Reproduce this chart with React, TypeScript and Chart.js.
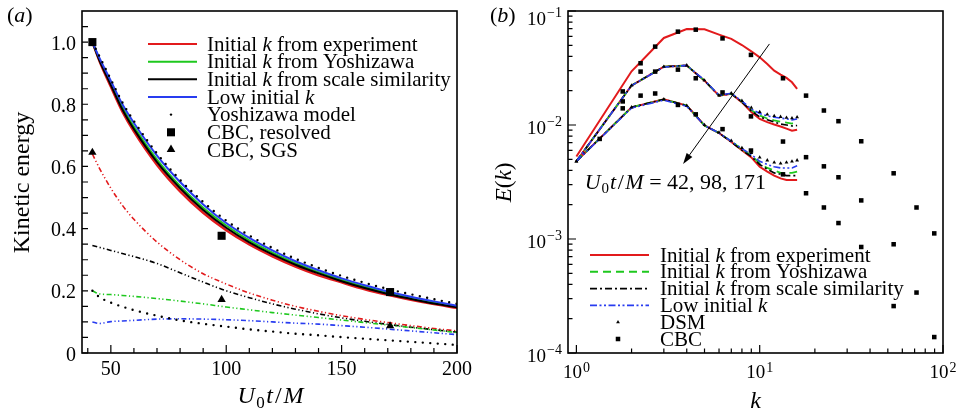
import React, { useEffect, useRef } from 'react';
import { Chart, registerables } from 'chart.js';
Chart.register(...registerables);

const SERIF = '"Liberation Serif", "Times New Roman", Times, serif';
const RED = 'rgb(226,26,28)';
const GREEN = 'rgb(30,200,30)';
const BLUE = 'rgb(40,60,240)';
const BLACK = '#000';

// ---------------- Panel (a): kinetic energy decay ----------------
const tA = [42, 45, 50, 55, 60, 70, 80, 90, 100, 110, 120, 130, 140, 150, 160, 170, 180, 190, 200];
const resExperiment = [1.0, 0.94, 0.856, 0.776, 0.712, 0.605, 0.52, 0.451, 0.395, 0.349, 0.311, 0.278, 0.25, 0.227, 0.205, 0.187, 0.171, 0.157, 0.145];
const resYoshizawa = [1.0, 0.945, 0.867, 0.79, 0.728, 0.622, 0.537, 0.467, 0.41, 0.362, 0.323, 0.289, 0.26, 0.235, 0.213, 0.193, 0.177, 0.162, 0.149];
const resScaleSim = [1.0, 0.942, 0.862, 0.783, 0.72, 0.614, 0.53, 0.46, 0.403, 0.356, 0.317, 0.284, 0.256, 0.231, 0.209, 0.19, 0.174, 0.159, 0.147];
const resLowInit = [1.0, 0.95, 0.875, 0.8, 0.74, 0.635, 0.55, 0.478, 0.418, 0.37, 0.33, 0.295, 0.266, 0.24, 0.218, 0.198, 0.181, 0.166, 0.152];
const yoshizawaModelRes = [1.0, 0.955, 0.88, 0.806, 0.746, 0.642, 0.557, 0.486, 0.426, 0.378, 0.338, 0.303, 0.274, 0.248, 0.226, 0.206, 0.189, 0.173, 0.158];
const sgsExperiment = [0.64, 0.595, 0.53, 0.475, 0.43, 0.357, 0.3, 0.255, 0.222, 0.193, 0.17, 0.15, 0.134, 0.12, 0.108, 0.098, 0.088, 0.079, 0.071];
const sgsYoshizawa = [0.2, 0.19, 0.188, 0.185, 0.182, 0.175, 0.167, 0.158, 0.148, 0.139, 0.13, 0.122, 0.114, 0.106, 0.098, 0.09, 0.082, 0.074, 0.066];
const sgsScaleSim = [0.346, 0.34, 0.33, 0.32, 0.31, 0.288, 0.258, 0.228, 0.2, 0.178, 0.158, 0.141, 0.126, 0.113, 0.102, 0.092, 0.083, 0.075, 0.067];
const sgsLowInit = [0.1, 0.095, 0.101, 0.103, 0.105, 0.109, 0.11, 0.109, 0.107, 0.104, 0.1, 0.096, 0.093, 0.088, 0.083, 0.077, 0.071, 0.065, 0.059];
const yoshizawaModelSgs = [0.2, 0.18, 0.162, 0.149, 0.138, 0.12, 0.105, 0.094, 0.085, 0.076, 0.069, 0.062, 0.057, 0.051, 0.046, 0.041, 0.036, 0.031, 0.026];
const cbcTimes = [42, 98, 171];
const cbcResolved = [1.0, 0.377, 0.196];
const cbcSgs = [0.645, 0.172, 0.087];
const xTicksA = [50, 100, 150, 200];
const xTickLabelsA = ['50', '100', '150', '200'];
const xMinorTicksA = [40, 50, 60, 70, 80, 90, 100, 110, 120, 130, 140, 150, 160, 170, 180, 190, 200];
const yTicksA = [0, 0.2, 0.4, 0.6, 0.8, 1.0];
const yTickLabelsA = ['0', '0.2', '0.4', '0.6', '0.8', '1.0'];
const yMinorTicksA = [0, 0.05, 0.1, 0.15, 0.2, 0.25, 0.3, 0.35, 0.4, 0.45, 0.5, 0.55, 0.6, 0.65, 0.7, 0.75, 0.8, 0.85, 0.9, 0.95, 1.0, 1.05];

// ---------------- Panel (b): energy spectra ----------------
const kSim = [1, 2, 3, 4, 5, 6, 7, 8, 9, 10, 11, 12, 13, 14, 15, 16];
const eExp42 = [0.0053, 0.0296, 0.058, 0.0695, 0.069, 0.062, 0.0569, 0.0503, 0.0443, 0.0392, 0.0343, 0.03, 0.0277, 0.0259, 0.0237, 0.0207];
const eExp98 = [0.0048, 0.0222, 0.0325, 0.0333, 0.0245, 0.0181, 0.0188, 0.0158, 0.013, 0.0113, 0.0106, 0.0101, 0.0097, 0.0093, 0.0089, 0.0091];
const eSca98 = [0.0048, 0.0222, 0.0325, 0.0333, 0.0245, 0.0181, 0.0188, 0.0159, 0.0133, 0.0118, 0.0111, 0.0106, 0.0102, 0.01, 0.0098, 0.0099];
const eYos98 = [0.0048, 0.0222, 0.0325, 0.0333, 0.0245, 0.0181, 0.0188, 0.016, 0.0135, 0.0121, 0.0114, 0.011, 0.0107, 0.0105, 0.0103, 0.0107];
const eLow98 = [0.0048, 0.0222, 0.0322, 0.0333, 0.0247, 0.0183, 0.019, 0.0162, 0.0138, 0.0126, 0.012, 0.0117, 0.0115, 0.0113, 0.0111, 0.0113];
const eDsm98 = [0.0048, 0.0222, 0.0325, 0.0334, 0.0246, 0.0182, 0.019, 0.0163, 0.0142, 0.013, 0.0124, 0.012, 0.0118, 0.0116, 0.0115, 0.0117];
const eExp171 = [0.0048, 0.0143, 0.0168, 0.0148, 0.0099, 0.0085, 0.0071, 0.006, 0.0052, 0.0043, 0.0039, 0.0036, 0.0034, 0.0033, 0.0033, 0.0033];
const eSca171 = [0.0048, 0.0143, 0.0168, 0.0148, 0.0099, 0.0085, 0.0071, 0.006, 0.0053, 0.0045, 0.0041, 0.0038, 0.0037, 0.0036, 0.0036, 0.0036];
const eYos171 = [0.0048, 0.0143, 0.0168, 0.0148, 0.0099, 0.0085, 0.0072, 0.0061, 0.0054, 0.0046, 0.0042, 0.004, 0.0038, 0.0038, 0.0038, 0.0039];
const eLow171 = [0.0048, 0.0141, 0.0165, 0.0146, 0.0099, 0.0085, 0.0072, 0.0062, 0.0055, 0.0048, 0.0045, 0.0043, 0.0042, 0.0042, 0.0042, 0.0044];
const eDsm171 = [0.0048, 0.0143, 0.0168, 0.0148, 0.01, 0.0086, 0.0073, 0.0063, 0.0057, 0.0052, 0.0049, 0.0047, 0.0046, 0.0047, 0.0048, 0.0049];
const kCbc = [1.34, 1.79, 2.24, 2.69, 3.58, 4.48, 6.27, 8.96, 13.4, 17.9, 22.4, 26.9, 35.8, 53.8, 71.7, 89.6];
const eCbc42 = [null, 0.0197, 0.0348, 0.0487, 0.0659, 0.0686, 0.0575, 0.0412, 0.0257, 0.0181, 0.0134, 0.0108, 0.0072, 0.00377, 0.00189, 0.00112];
const eCbc98 = [null, 0.0161, 0.0294, 0.0294, 0.0306, 0.0257, 0.0193, 0.0119, 0.00716, 0.00522, 0.00434, 0.00348, 0.00218, 0.000899, 0.000339, 0.000138];
const eCbc171 = [0.00755, 0.014, 0.0181, 0.0189, 0.015, 0.0124, 0.0092, 0.00597, 0.00369, 0.00252, 0.00189, 0.00138, 0.000851, 0.000258, null, null];
const xTicksB = [1, 10, 100];
const xTickExpB = ['0', '1', '2'];
const yTicksB = [1e-4, 1e-3, 1e-2, 1e-1];
const yTickExpB = ['\u22124', '\u22123', '\u22122', '\u22121'];
const arrowFrom = { k: 11.3, e: 0.0514 };
const arrowTo = { k: 3.82, e: 0.00456 };
const annotAt = { k: 1.11, e: 0.00277 };

// ---------------- helpers ----------------
type Part = { t: string; it?: boolean; sub?: boolean; sup?: boolean; gap?: number };
const partFont = (p: Part, size: number) =>
  `${p.it ? 'italic ' : ''}${p.sub || p.sup ? Math.round(size * 0.7) : size}px ${SERIF}`;
function richWidth(ctx: CanvasRenderingContext2D, parts: Part[], size: number) {
  let w = 0;
  for (const p of parts) { ctx.font = partFont(p, size); w += ctx.measureText(p.t).width + (p.gap || 0); }
  return w;
}
function drawRich(ctx: CanvasRenderingContext2D, parts: Part[], x: number, y: number, size: number, align = 'left') {
  const w = richWidth(ctx, parts, size);
  let cx = align === 'left' ? x : align === 'center' ? x - w / 2 : x - w;
  ctx.textAlign = 'left';
  ctx.textBaseline = 'alphabetic';
  for (const p of parts) {
    ctx.font = partFont(p, size);
    const dy = p.sub ? size * 0.22 : p.sup ? -size * 0.42 : 0;
    ctx.fillText(p.t, cx, y + dy);
    cx += ctx.measureText(p.t).width + (p.gap || 0);
  }
}
function drawPow(ctx: CanvasRenderingContext2D, exp: string, x: number, y: number, align: string, raise: number) {
  ctx.textAlign = 'left';
  ctx.textBaseline = 'alphabetic';
  ctx.font = `19px ${SERIF}`;
  const wb = ctx.measureText('10').width;
  ctx.font = `14px ${SERIF}`;
  const we = ctx.measureText(exp).width;
  const total = wb + 1 + we;
  const sx = align === 'center' ? x - total / 2 : x - total;
  ctx.font = `19px ${SERIF}`;
  ctx.fillText('10', sx, y);
  ctx.font = `14px ${SERIF}`;
  ctx.fillText(exp, sx + wb + 1, y - raise);
}
function legendLine(ctx: CanvasRenderingContext2D, x1: number, x2: number, y: number, color: string, dash: number[], w: number) {
  ctx.save();
  ctx.strokeStyle = color; ctx.lineWidth = w; ctx.setLineDash(dash); ctx.lineCap = 'butt';
  ctx.beginPath(); ctx.moveTo(x1, y); ctx.lineTo(x2, y); ctx.stroke();
  ctx.restore();
}
function marker(ctx: CanvasRenderingContext2D, kind: string, x: number, y: number, r: number) {
  ctx.save();
  ctx.fillStyle = '#000';
  ctx.beginPath();
  if (kind === 'rect') { const s = r * Math.SQRT1_2; ctx.rect(x - s, y - s, 2 * s, 2 * s); }
  else if (kind === 'triangle') { ctx.moveTo(x, y - r); ctx.lineTo(x + 0.866 * r, y + 0.5 * r); ctx.lineTo(x - 0.866 * r, y + 0.5 * r); ctx.closePath(); }
  else { ctx.arc(x, y, r, 0, Math.PI * 2); }
  ctx.fill();
  ctx.restore();
}
const pts = (xs: number[], ys: (number | null)[]) =>
  xs.map((x, i) => ({ x, y: ys[i] })).filter((p) => p.y !== null);

const lineDs = (label: string, xs: number[], ys: (number | null)[], color: string, width: number, dash: number[], extra: any = {}) => ({
  label, data: pts(xs, ys), borderColor: color, backgroundColor: color, borderWidth: width,
  borderDash: dash, pointRadius: 0, fill: false, tension: 0, ...extra,
});
const markDs = (label: string, xs: number[], ys: (number | null)[], style: string, r: number) => ({
  label, data: pts(xs, ys), showLine: false, pointStyle: style, pointRadius: r,
  backgroundColor: '#000', borderColor: '#000', pointBorderWidth: 0, borderWidth: 0,
});

const DASHDOTDOT_A = [5, 2.5, 1.2, 2.5, 1.2, 2.5];
const DOTS = [0, 7.5];
const MONO = { cubicInterpolationMode: 'monotone' };

// ---------------- panel (a) ----------------
function makeConfigA(): any {
  const decor = {
    id: 'decorA',
    afterDraw(chart: any) {
      const { ctx, chartArea: ca, scales } = chart;
      const xs = scales.x, ys = scales.y;
      ctx.save();
      ctx.strokeStyle = '#000';
      ctx.lineWidth = 1.2;
      ctx.beginPath();
      xMinorTicksA.forEach((v) => {
        const p = xs.getPixelForValue(v);
        const len = xTicksA.includes(v) ? 8 : 5;
        ctx.moveTo(p, ca.bottom); ctx.lineTo(p, ca.bottom - len);
      });
      yMinorTicksA.forEach((v) => {
        const p = ys.getPixelForValue(v);
        ctx.moveTo(ca.left, p); ctx.lineTo(ca.left + 6, p);
      });
      ctx.stroke();
      ctx.lineWidth = 1.6;
      ctx.strokeRect(ca.left, ca.top, ca.right - ca.left, ca.bottom - ca.top);
      ctx.fillStyle = '#000';
      ctx.font = `20px ${SERIF}`;
      ctx.textBaseline = 'alphabetic';
      ctx.textAlign = 'center';
      xTicksA.forEach((v, i) => ctx.fillText(xTickLabelsA[i], xs.getPixelForValue(v), ca.bottom + 22));
      ctx.textAlign = 'right';
      yTicksA.forEach((v, i) => ctx.fillText(yTickLabelsA[i], ca.left - 6, ys.getPixelForValue(v) + 7.5));
      // axis titles
      drawRich(ctx, [{ t: 'U', it: true, gap: 1.5 }, { t: '0', sub: true, gap: 1.5 }, { t: 't', it: true, gap: 2 }, { t: '/', gap: 2 }, { t: 'M', it: true }],
        (ca.left + ca.right) / 2 + 1, 403, 24, 'center');
      ctx.save();
      ctx.translate(28.5, 182.5);
      ctx.rotate(-Math.PI / 2);
      drawRich(ctx, [{ t: 'Kinetic energy' }], 0, 0, 24, 'center');
      ctx.restore();
      drawRich(ctx, [{ t: '(' }, { t: 'a', it: true }, { t: ')' }], 7, 22, 22, 'left');
      // legend
      const rows = [44, 61.7, 79.3, 97, 114.6, 132.3, 150];
      const lx1 = 148, lx2 = 197, tx = 207, mx = 171, fs = 21;
      legendLine(ctx, lx1, lx2, rows[0], RED, [], 2);
      legendLine(ctx, lx1, lx2, rows[1], GREEN, [], 2);
      legendLine(ctx, lx1, lx2, rows[2], BLACK, [], 2);
      legendLine(ctx, lx1, lx2, rows[3], BLUE, [], 2);
      marker(ctx, 'circle', mx, rows[4], 1.2);
      marker(ctx, 'rect', mx, rows[5], 5.7);
      marker(ctx, 'triangle', mx, rows[6] - 0.5, 5);
      ctx.fillStyle = '#000';
      const texts: Part[][] = [
        [{ t: 'Initial ' }, { t: 'k', it: true }, { t: ' from experiment' }],
        [{ t: 'Initial ' }, { t: 'k', it: true }, { t: ' from Yoshizawa' }],
        [{ t: 'Initial ' }, { t: 'k', it: true }, { t: ' from scale similarity' }],
        [{ t: 'Low initial ' }, { t: 'k', it: true }],
        [{ t: 'Yoshizawa model' }],
        [{ t: 'CBC, resolved' }],
        [{ t: 'CBC, SGS' }],
      ];
      texts.forEach((p, i) => drawRich(ctx, p, tx, rows[i] + 6.5, fs, 'left'));
      ctx.restore();
    },
  };
  return {
    type: 'line',
    data: {
      datasets: [
        markDs('CBC, resolved', cbcTimes, cbcResolved, 'rect', 5.7),
        markDs('CBC, SGS', cbcTimes, cbcSgs, 'triangle', 4.8),
        lineDs('Yoshizawa model', tA, yoshizawaModelRes, BLACK, 2.4, DOTS, { borderCapStyle: 'round', ...MONO }),
        lineDs('Yoshizawa model SGS', tA, yoshizawaModelSgs, BLACK, 2.4, DOTS, { borderCapStyle: 'round', ...MONO }),
        lineDs('Low initial k', tA, resLowInit, BLUE, 2, [], MONO),
        lineDs('Initial k from scale similarity', tA, resScaleSim, BLACK, 2, [], MONO),
        lineDs('Initial k from Yoshizawa', tA, resYoshizawa, GREEN, 2, [], MONO),
        lineDs('Initial k from experiment', tA, resExperiment, RED, 2.4, [], MONO),
        lineDs('SGS low', tA, sgsLowInit, BLUE, 1.6, DASHDOTDOT_A, MONO),
        lineDs('SGS yoshizawa', tA, sgsYoshizawa, GREEN, 1.6, DASHDOTDOT_A, MONO),
        lineDs('SGS scale', tA, sgsScaleSim, BLACK, 1.6, DASHDOTDOT_A, MONO),
        lineDs('SGS experiment', tA, sgsExperiment, RED, 1.6, DASHDOTDOT_A, MONO),
      ],
    },
    options: {
      responsive: false, animation: false, devicePixelRatio: 1, events: [],
      layout: { padding: { top: 11, right: 23, left: 0, bottom: 0 } },
      plugins: { legend: { display: false }, tooltip: { enabled: false } },
      scales: {
        x: {
          type: 'linear', min: 37.5, max: 200,
          ticks: { display: false }, grid: { display: false, drawTicks: false }, border: { display: false },
          afterFit: (s: any) => { s.height = 62; },
        },
        y: {
          type: 'linear', min: 0, max: 1.1,
          ticks: { display: false }, grid: { display: false, drawTicks: false }, border: { display: false },
          afterFit: (s: any) => { s.width = 82; },
        },
      },
    },
    plugins: [decor],
  };
}

// ---------------- panel (b) ----------------
const DASH_B = [8, 5];
const DASHDOT_B = [7, 3, 2, 3];
const DASHDOTDOT_B = [7, 2.5, 2, 2.5, 2, 2.5];

function makeConfigB(): any {
  const decor = {
    id: 'decorB',
    afterDraw(chart: any) {
      const { ctx, chartArea: ca, scales } = chart;
      const xs = scales.x, ys = scales.y;
      ctx.save();
      ctx.strokeStyle = '#000';
      ctx.lineWidth = 1.2;
      ctx.beginPath();
      [1, 10].forEach((d) => {
        for (let m = 1; m <= 10; m++) {
          const v = m * d;
          if (m === 10 && d === 1) continue;
          const p = xs.getPixelForValue(v);
          const len = m === 1 || m === 10 ? 8 : 4.5;
          ctx.moveTo(p, ca.bottom); ctx.lineTo(p, ca.bottom - len);
        }
      });
      [1e-4, 1e-3, 1e-2].forEach((d) => {
        for (let m = 1; m <= 10; m++) {
          const v = m * d;
          if (m === 10 && d !== 1e-2) continue;
          const p = ys.getPixelForValue(v);
          const len = m === 1 || m === 10 ? 8 : 4.5;
          ctx.moveTo(ca.left, p); ctx.lineTo(ca.left + len, p);
        }
      });
      ctx.stroke();
      ctx.lineWidth = 1.6;
      ctx.strokeRect(ca.left, ca.top, ca.right - ca.left, ca.bottom - ca.top);
      ctx.fillStyle = '#000';
      xTicksB.forEach((v, i) => drawPow(ctx, xTickExpB[i], xs.getPixelForValue(v), ca.bottom + 25, 'center', 6));
      yTicksB.forEach((v, i) => {
        const p = ys.getPixelForValue(v);
        drawPow(ctx, yTickExpB[i], ca.left - 6, Math.max(p + 9, ca.top + 14), 'right', 8);
      });
      // axis titles
      drawRich(ctx, [{ t: 'k', it: true }], (ca.left + ca.right) / 2 + 0, 408, 24, 'center');
      ctx.save();
      ctx.translate(30.5, 182.5);
      ctx.rotate(-Math.PI / 2);
      drawRich(ctx, [{ t: 'E', it: true }, { t: '(' }, { t: 'k', it: true }, { t: ')' }], 0, 0, 23, 'center');
      ctx.restore();
      drawRich(ctx, [{ t: '(' }, { t: 'b', it: true }, { t: ')' }], 10, 22, 22, 'left');
      // arrow
      const x1 = xs.getPixelForValue(arrowFrom.k), y1 = ys.getPixelForValue(arrowFrom.e);
      const x2 = xs.getPixelForValue(arrowTo.k), y2 = ys.getPixelForValue(arrowTo.e);
      const ang = Math.atan2(y2 - y1, x2 - x1);
      const hl = 11, hw = 3.5;
      const bx = x2 - hl * Math.cos(ang), by = y2 - hl * Math.sin(ang);
      ctx.lineWidth = 1;
      ctx.beginPath(); ctx.moveTo(x1, y1); ctx.lineTo(bx, by); ctx.stroke();
      ctx.beginPath();
      ctx.moveTo(x2, y2);
      ctx.lineTo(bx + hw * Math.sin(ang), by - hw * Math.cos(ang));
      ctx.lineTo(bx - hw * Math.sin(ang), by + hw * Math.cos(ang));
      ctx.closePath(); ctx.fill();
      drawRich(ctx, [{ t: 'U', it: true, gap: 1 }, { t: '0', sub: true, gap: 1 }, { t: 't', it: true, gap: 1.5 }, { t: '/', gap: 1.5 }, { t: 'M', it: true }, { t: ' = 42, 98, 171' }],
        xs.getPixelForValue(annotAt.k), ys.getPixelForValue(annotAt.e), 22, 'left');
      // legend
      const rows = [255, 271.8, 288.6, 305.4, 322.2, 339];
      const lx1 = 110, lx2 = 169, tx = 180, mx = 138, fs = 21;
      legendLine(ctx, lx1, lx2, rows[0], RED, [], 2);
      legendLine(ctx, lx1, lx2, rows[1], GREEN, DASH_B, 2);
      legendLine(ctx, lx1, lx2, rows[2], BLACK, DASHDOT_B, 1.6);
      legendLine(ctx, lx1, lx2, rows[3], BLUE, DASHDOTDOT_B, 1.6);
      marker(ctx, 'triangle', mx, rows[4], 2.2);
      marker(ctx, 'rect', mx, rows[5], 3.2);
      ctx.fillStyle = '#000';
      const texts: Part[][] = [
        [{ t: 'Initial ' }, { t: 'k', it: true }, { t: ' from experiment' }],
        [{ t: 'Initial ' }, { t: 'k', it: true }, { t: ' from Yoshizawa' }],
        [{ t: 'Initial ' }, { t: 'k', it: true }, { t: ' from scale similarity' }],
        [{ t: 'Low initial ' }, { t: 'k', it: true }],
        [{ t: 'DSM' }],
        [{ t: 'CBC' }],
      ];
      texts.forEach((p, i) => drawRich(ctx, p, tx, rows[i] + 6.5, fs, 'left'));
      ctx.restore();
    },
  };
  return {
    type: 'line',
    data: {
      datasets: [
        markDs('CBC 42', kCbc, eCbc42, 'rect', 3.2),
        markDs('CBC 98', kCbc, eCbc98, 'rect', 3.2),
        markDs('CBC 171', kCbc, eCbc171, 'rect', 3.2),
        markDs('DSM 98', kSim, eDsm98, 'triangle', 2.2),
        markDs('DSM 171', kSim, eDsm171, 'triangle', 2.2),
        lineDs('Low 98', kSim, eLow98, BLUE, 1.6, DASHDOTDOT_B),
        lineDs('Low 171', kSim, eLow171, BLUE, 1.6, DASHDOTDOT_B),
        lineDs('Scale 98', kSim, eSca98, BLACK, 1.6, DASHDOT_B),
        lineDs('Scale 171', kSim, eSca171, BLACK, 1.6, DASHDOT_B),
        lineDs('Yos 98', kSim, eYos98, GREEN, 1.8, DASH_B),
        lineDs('Yos 171', kSim, eYos171, GREEN, 1.8, DASH_B),
        lineDs('Exp 42', kSim, eExp42, RED, 2, []),
        lineDs('Exp 98', kSim, eExp98, RED, 2, []),
        lineDs('Exp 171', kSim, eExp171, RED, 2, []),
      ],
    },
    options: {
      responsive: false, animation: false, devicePixelRatio: 1, events: [],
      layout: { padding: { top: 11, right: 19, left: 0, bottom: 0 } },
      plugins: { legend: { display: false }, tooltip: { enabled: false } },
      scales: {
        x: {
          type: 'logarithmic', min: 0.9, max: 100,
          ticks: { display: false }, grid: { display: false, drawTicks: false }, border: { display: false },
          afterFit: (s: any) => { s.height = 62; },
        },
        y: {
          type: 'logarithmic', min: 1e-4, max: 1e-1,
          ticks: { display: false }, grid: { display: false, drawTicks: false }, border: { display: false },
          afterFit: (s: any) => { s.width = 88; },
        },
      },
    },
    plugins: [decor],
  };
}

export default function App() {
  const refA = useRef<HTMLCanvasElement>(null);
  const refB = useRef<HTMLCanvasElement>(null);
  useEffect(() => {
    const a = new Chart(refA.current as HTMLCanvasElement, makeConfigA());
    const b = new Chart(refB.current as HTMLCanvasElement, makeConfigB());
    return () => { a.destroy(); b.destroy(); };
  }, []);
  return (
    <div style={{ position: 'fixed', left: 0, top: 0, width: 962, height: 415, background: '#fff' }}>
      <canvas ref={refA} width={480} height={415} style={{ position: 'absolute', left: 0, top: 0, width: 480, height: 415 }} />
      <canvas ref={refB} width={482} height={415} style={{ position: 'absolute', left: 480, top: 0, width: 482, height: 415 }} />
    </div>
  );
}
